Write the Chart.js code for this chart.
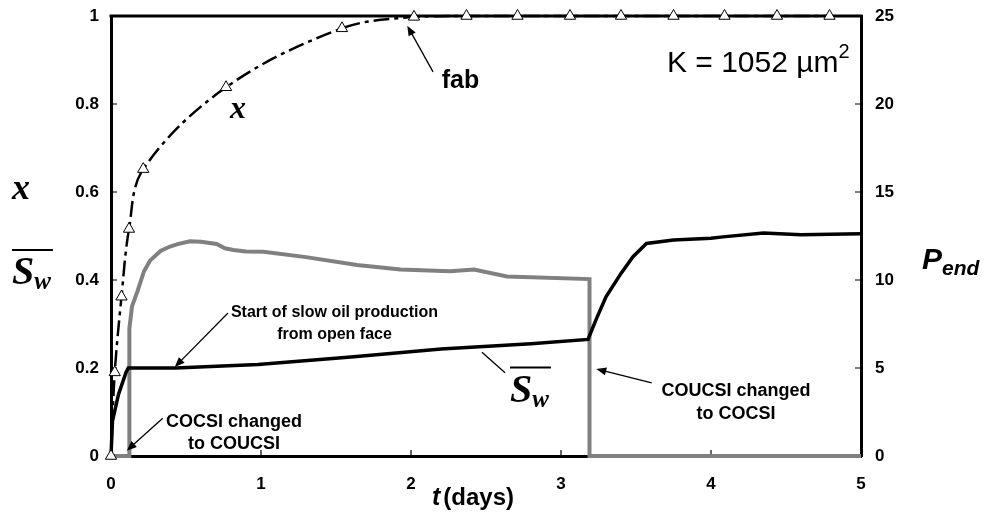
<!DOCTYPE html>
<html>
<head>
<meta charset="utf-8">
<script src="https://cdn.jsdelivr.net/npm/chart.js@4.4.1/dist/chart.umd.min.js"></script>
<style>
  html, body { margin: 0; padding: 0; background: #fff; }
</style>
</head>
<body>
<canvas id="fabChart" width="992" height="514"></canvas>
<script>
// fraction of area swept (x), triangle markers
const xDays = [0, 0.025, 0.07, 0.12, 0.215, 0.767, 1.54, 2.02, 2.37, 2.71, 3.06, 3.40, 3.75, 4.09, 4.44, 4.79];
const xFraction = [0, 0.19, 0.362, 0.516, 0.652, 0.838, 0.972, 0.998, 1, 1, 1, 1, 1, 1, 1, 1];

// average water saturation
const swDays = [0, 0.01, 0.05, 0.1, 0.115, 0.43, 0.98, 1.6, 2.2, 2.8, 3.18, 3.24, 3.30, 3.40, 3.48, 3.57, 3.75, 4.0, 4.08, 4.35, 4.6, 5.0];
const swValues = [0, 0.08, 0.14, 0.19, 0.2, 0.2, 0.208, 0.225, 0.243, 0.255, 0.265, 0.315, 0.362, 0.415, 0.453, 0.483, 0.491, 0.495, 0.498, 0.507, 0.503, 0.505];

// end pressure (right axis)
const pendDays = [0, 0.12, 0.12, 0.125, 0.14, 0.178, 0.22, 0.26, 0.33, 0.393, 0.45, 0.527, 0.6, 0.704, 0.76, 0.816, 0.9, 1.016, 1.3, 1.64, 1.93, 2.26, 2.42, 2.64, 3.19, 3.19, 5];
const pendValues = [0, 0, 4.5, 7.25, 8.5, 9.4, 10.5, 11.1, 11.65, 11.9, 12.05, 12.2, 12.17, 12.05, 11.8, 11.7, 11.62, 11.6, 11.3, 10.85, 10.6, 10.5, 10.6, 10.2, 10.05, 0, 0];

const leftTicks = [0, 0.2, 0.4, 0.6, 0.8, 1];
const rightTicks = [0, 5, 10, 15, 20, 25];
const dayTicks = [0, 1, 2, 3, 4, 5];

const SANS = 'Liberation Sans, Arial, sans-serif';
const SERIF = 'Liberation Serif, Times New Roman, serif';
const tickFont = { family: SANS, size: 17, weight: 'bold' };

const toPoints = (xs, ys) => xs.map((x, i) => ({ x: x, y: ys[i] }));

// callouts, placed in (days, left-axis) units
const callouts = [
  { lines: ['Start of slow oil production', 'from open face'], at: [1.49, 0.325], gap: 0.05, size: 16, from: [0.78, 0.325], to: [0.425, 0.202] },
  { lines: ['COCSI changed', 'to COUCSI'], at: [0.82, 0.077], gap: 0.05, size: 18, from: [0.345, 0.086], to: [0.105, 0.012] },
  { lines: ['COUCSI changed', 'to COCSI'], at: [4.167, 0.148], gap: 0.052, size: 18, from: [3.605, 0.166], to: [3.235, 0.198] },
  { lines: ['fab'], at: [2.33, 0.852], gap: 0, size: 25, from: [2.147, 0.873], to: [1.975, 0.978] }
];

function arrow(ctx, x1, y1, x2, y2) {
  const ang = Math.atan2(y2 - y1, x2 - x1);
  const head = 10, half = 4;
  ctx.beginPath();
  ctx.moveTo(x1, y1);
  ctx.lineTo(x2 - Math.cos(ang) * head * 0.8, y2 - Math.sin(ang) * head * 0.8);
  ctx.stroke();
  ctx.beginPath();
  ctx.moveTo(x2, y2);
  ctx.lineTo(x2 - head * Math.cos(ang) + half * Math.sin(ang), y2 - head * Math.sin(ang) - half * Math.cos(ang));
  ctx.lineTo(x2 - head * Math.cos(ang) - half * Math.sin(ang), y2 - head * Math.sin(ang) + half * Math.cos(ang));
  ctx.closePath();
  ctx.fill();
}

// S with subscript w and a bar on top
function drawSw(ctx, x, baseline, size) {
  ctx.textAlign = 'left';
  ctx.textBaseline = 'alphabetic';
  ctx.font = 'italic bold ' + size + 'px ' + SERIF;
  ctx.fillText('S', x, baseline);
  const sW = ctx.measureText('S').width;
  ctx.font = 'italic bold ' + Math.round(size * 0.62) + 'px ' + SERIF;
  ctx.fillText('w', x + sW, baseline + size * 0.12);
  const wW = ctx.measureText('w').width;
  ctx.lineWidth = 2;
  ctx.beginPath();
  ctx.moveTo(x, baseline - size * 0.86);
  ctx.lineTo(x + sW + wW + 2, baseline - size * 0.86);
  ctx.stroke();
}

const framePlugin = {
  id: 'frame',
  beforeDatasetsDraw(chart) {
    const { ctx, chartArea: a } = chart;
    const sx = chart.scales.x, sy = chart.scales.y, sy2 = chart.scales.y2;
    ctx.save();
    ctx.strokeStyle = '#000';
    ctx.lineWidth = 3;
    ctx.beginPath();
    ctx.moveTo(a.left - 1.5, a.top);
    ctx.lineTo(a.right + 1.5, a.top);
    ctx.stroke();
    // inward tick marks
    ctx.lineWidth = 1.2;
    ctx.beginPath();
    dayTicks.slice(1, -1).forEach(d => {
      const px = sx.getPixelForValue(d);
      ctx.moveTo(px, a.bottom);
      ctx.lineTo(px, a.bottom - 6);
    });
    leftTicks.slice(1, -1).forEach(v => {
      const py = sy.getPixelForValue(v);
      ctx.moveTo(a.left, py);
      ctx.lineTo(a.left + 6, py);
    });
    rightTicks.slice(1, -1).forEach(v => {
      const py = sy2.getPixelForValue(v);
      ctx.moveTo(a.right, py);
      ctx.lineTo(a.right - 6, py);
    });
    ctx.stroke();
    ctx.restore();
  },
  afterDraw(chart) {
    const { ctx, chartArea: a } = chart;
    const sx = chart.scales.x, sy = chart.scales.y, sy2 = chart.scales.y2;
    const X = v => sx.getPixelForValue(v), Y = v => sy.getPixelForValue(v);
    ctx.save();
    ctx.fillStyle = '#000';
    ctx.strokeStyle = '#000';

    callouts.forEach(c => {
      ctx.font = 'bold ' + c.size + 'px ' + SANS;
      ctx.textAlign = 'center';
      ctx.textBaseline = 'middle';
      c.lines.forEach((ln, i) => ctx.fillText(ln, X(c.at[0]), Y(c.at[1] - i * c.gap)));
      ctx.lineWidth = 1.3;
      arrow(ctx, X(c.from[0]), Y(c.from[1]), X(c.to[0]), Y(c.to[1]));
    });

    // curve labels
    ctx.font = 'italic bold 32px ' + SERIF;
    ctx.textAlign = 'left';
    ctx.textBaseline = 'alphabetic';
    ctx.fillText('x', X(0.793), Y(0.768));
    ctx.lineWidth = 1.3;
    ctx.beginPath();
    ctx.moveTo(X(2.473), Y(0.236));
    ctx.lineTo(X(2.627), Y(0.189));
    ctx.stroke();
    drawSw(ctx, X(2.66), Y(0.123), 40);

    // permeability note
    ctx.font = '30px ' + SANS;
    ctx.textAlign = 'right';
    ctx.textBaseline = 'alphabetic';
    ctx.fillText('K = 1052 \u00b5m', X(4.85), Y(0.873));
    ctx.font = '20px ' + SANS;
    ctx.textAlign = 'left';
    ctx.fillText('2', X(4.85), Y(0.905));

    // left axis titles
    ctx.font = 'italic bold 36px ' + SERIF;
    ctx.fillText('x', 12, Y(0.584));
    drawSw(ctx, 12, Y(0.39), 40);

    // right axis title
    ctx.font = 'italic bold 30px ' + SANS;
    ctx.textAlign = 'left';
    ctx.textBaseline = 'alphabetic';
    const pBase = sy2.getPixelForValue(10.6);
    ctx.fillText('P', a.right + 61, pBase);
    const pw = ctx.measureText('P').width;
    ctx.font = 'italic bold 21px ' + SANS;
    ctx.fillText('end', a.right + 61 + pw, pBase + 6);

    // x axis title
    ctx.font = 'italic bold 25px ' + SANS;
    ctx.textBaseline = 'middle';
    const tx = X(2.14);
    ctx.fillText('t', tx, a.bottom + 42);
    const tw = ctx.measureText('t').width;
    ctx.font = 'bold 24px ' + SANS;
    ctx.fillText('(days)', tx + tw + 3, a.bottom + 42);
    ctx.restore();
  }
};

const ctx = document.getElementById('fabChart').getContext('2d');
new Chart(ctx, {
  type: 'line',
  data: {
    datasets: [
      {
        label: 'x',
        data: toPoints(xDays, xFraction),
        yAxisID: 'y',
        borderColor: '#000',
        borderWidth: 2.5,
        borderDash: [16, 5, 4, 5],
        tension: 0.35,
        pointStyle: 'triangle',
        pointRadius: 6.5,
        pointBackgroundColor: '#fff',
        pointBorderColor: '#000',
        pointBorderWidth: 1,
        fill: false,
        clip: 10
      },
      {
        label: 'Sw',
        data: toPoints(swDays, swValues),
        yAxisID: 'y',
        borderColor: '#000',
        borderWidth: 3.5,
        tension: 0,
        pointRadius: 0,
        fill: false,
        clip: 10
      },
      {
        label: 'Pend',
        data: toPoints(pendDays, pendValues),
        yAxisID: 'y2',
        borderColor: '#808080',
        borderWidth: 4,
        tension: 0,
        pointRadius: 0,
        fill: false,
        clip: 10
      }
    ]
  },
  options: {
    responsive: false,
    animation: false,
    devicePixelRatio: 1,
    layout: { padding: { top: 16, left: 0, right: 0, bottom: 0 } },
    plugins: { legend: { display: false }, tooltip: { enabled: false } },
    scales: {
      x: {
        type: 'linear',
        position: 'bottom',
        min: 0,
        max: 5,
        grid: { display: false, drawTicks: false },
        border: { display: true, color: '#000', width: 3 },
        ticks: { stepSize: 1, color: '#000', font: tickFont, padding: 18 },
        afterFit: s => { s.height = 58; s.paddingLeft = 0; s.paddingRight = 0; }
      },
      y: {
        type: 'linear',
        position: 'left',
        min: 0,
        max: 1,
        grid: { display: false, drawTicks: false },
        border: { display: true, color: '#000', width: 3 },
        ticks: { stepSize: 0.2, color: '#000', font: tickFont, padding: 12,
                 callback: v => String(+v.toFixed(1)) },
        afterFit: s => { s.width = 111; s.paddingTop = 0; s.paddingBottom = 0; }
      },
      y2: {
        type: 'linear',
        position: 'right',
        min: 0,
        max: 25,
        grid: { display: false, drawTicks: false },
        border: { display: true, color: '#000', width: 3 },
        ticks: { stepSize: 5, color: '#000', font: tickFont, padding: 14 },
        afterFit: s => { s.width = 131; s.paddingTop = 0; s.paddingBottom = 0; }
      }
    }
  },
  plugins: [framePlugin]
});
</script>
</body>
</html>
